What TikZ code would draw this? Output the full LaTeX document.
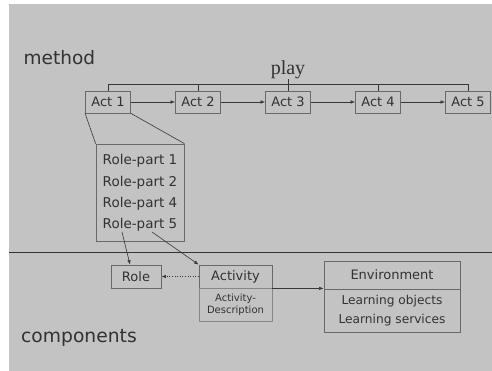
\documentclass[tikz,border=0pt]{standalone}
\usepackage{fontspec}
\setmainfont{DejaVu Sans}
\newfontfamily\playfont{Liberation Serif}
\usetikzlibrary{arrows.meta,shadows}
\definecolor{bg}{RGB}{195,195,195}
\definecolor{bord}{RGB}{105,105,105}
\definecolor{lbord}{RGB}{135,135,135}
\definecolor{txt}{RGB}{50,50,50}
\definecolor{ln}{RGB}{55,55,55}
\begin{document}
\begin{tikzpicture}[x=1pt,y=-1pt,
  box/.style={draw=bord, line width=0.8pt, inner sep=0pt, fill=bg, text=txt,
    font=\fontsize{13}{15}\selectfont},
  actbox/.style={box, minimum width=45pt, minimum height=22pt,
    drop shadow={shadow xshift=0.9pt, shadow yshift=-0.9pt, fill=black!70, opacity=0.45}},
  lbl/.style={inner sep=0pt, text=txt},
  conn/.style={draw=ln, line width=0.6pt},
  arr/.style={conn, -{Latex[length=4.5pt,width=3.5pt]}},
]
\useasboundingbox (0,0) rectangle (492,371);
\fill[white] (0,0) rectangle (492,371);
\fill[bg] (9,4) rectangle (492,371);

% labels
\node[lbl, anchor=base west, font=\fontsize{18.5}{20}\selectfont] (method) at (23.5,65) {method};
\node[lbl, anchor=base west, font=\fontsize{18.7}{20}\selectfont] (components) at (21,342) {components};
\node[lbl, anchor=base, font=\playfont\fontsize{20}{22}\selectfont] (play) at (288,74.5) {play};

% acts
\node[actbox] (a1) at (108,102) {Act 1};
\node[actbox] (a2) at (198,102) {Act 2};
\node[actbox] (a3) at (288,102) {Act 3};
\node[actbox] (a4) at (378,102) {Act 4};
\node[actbox] (a5) at (468,102) {Act 5};
\coordinate (top) at (0,84);

\draw[conn] (a1.north) -- (a1.north |- top) -- (a5.north |- top) -- (a5.north);
\draw[conn] (a2.north) -- (a2.north |- top);
\draw[conn] (a3.north) -- (play.south);
\draw[conn] (a4.north) -- (a4.north |- top);

\draw[arr] (a1.east) -- (a2.west);
\draw[arr] (a2.east) -- (a3.west);
\draw[arr] (a3.east) -- (a4.west);
\draw[arr] (a4.east) -- (a5.west);

% role parts
\node[box, minimum width=88pt, minimum height=97pt] (rpbox) at (140,192.5) {};
\node[lbl, anchor=base, font=\fontsize{13.5}{15}\selectfont] (rp1) at (140,165) {Role-part 1};
\node[lbl, anchor=base, font=\fontsize{13.5}{15}\selectfont] (rp2) at (140,186.5) {Role-part 2};
\node[lbl, anchor=base, font=\fontsize{13.5}{15}\selectfont] (rp4) at (140,207.8) {Role-part 4};
\node[lbl, anchor=base, font=\fontsize{13.5}{15}\selectfont] (rp5) at (140,229) {Role-part 5};

\draw[conn] (a1.south west) -- (rpbox.north west);
\draw[conn] (a1.south east) -- (rpbox.north east);

% separator
\coordinate (sepL) at (9,252.5);
\coordinate (sepR) at (492,252.5);
\draw[draw=black!80, line width=1.1pt] (sepL) -- (sepR);

% components
\node[box, minimum width=50pt, minimum height=23pt] (role) at (136,276.5) {Role};
\node[box, minimum width=73pt, minimum height=23pt] (act) at (235.5,276.5) {Activity};
\node[box, draw=lbord, minimum width=73pt, minimum height=33pt, align=center,
  font=\fontsize{10}{12}\selectfont] (desc) at (235.5,304.5) {Activity-\\Description};

\node[box, minimum width=136pt, minimum height=28pt, font=\fontsize{13}{15}\selectfont] (envh) at (392,275) {Environment};
\node[box, minimum width=136pt, minimum height=43pt, align=center,
  font=\fontsize{12.2}{19}\selectfont] (envb) at (392,310.5) {Learning objects\\Learning services};

\draw[arr] ([xshift=-18pt]rp5.south) -- ([xshift=-6pt]role.north);
\draw[arr] ([xshift=12pt]rp5.south) -- (act.north west);
\draw[arr, dotted, line width=0.9pt] (act.west) -- (role.east);
\draw[arr] (act.south east) -- (act.south east -| envh.west);
\end{tikzpicture}
\end{document}
